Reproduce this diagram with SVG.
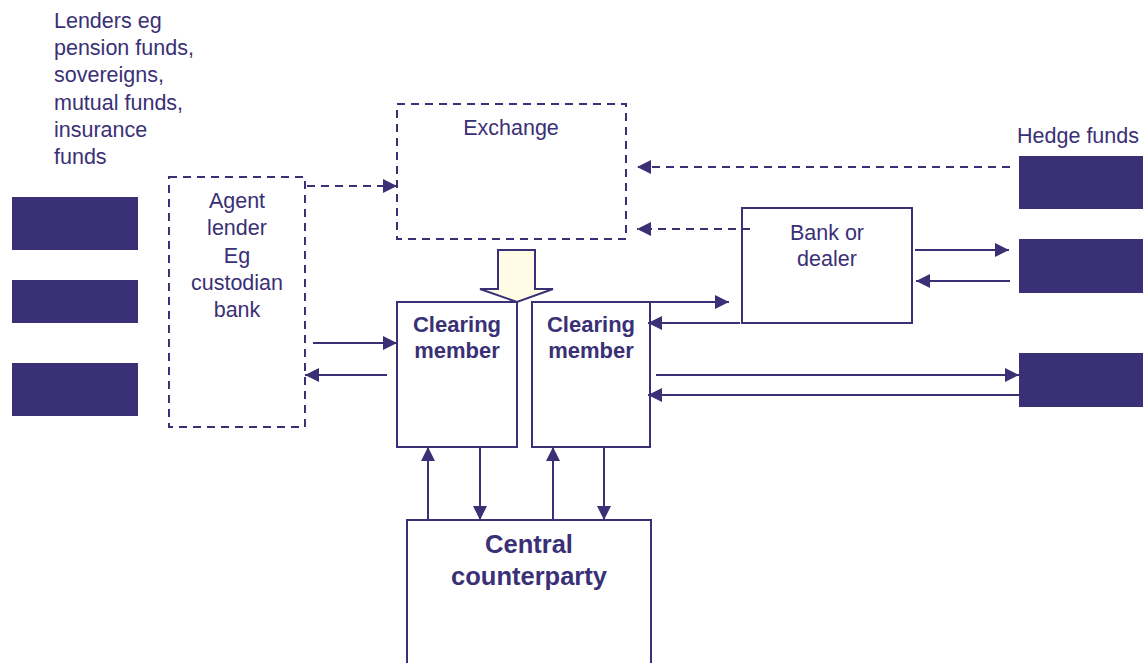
<svg xmlns="http://www.w3.org/2000/svg" width="1143" height="663" viewBox="0 0 1143 663">
  <style>
    .t { font-family: "Liberation Sans", Arial, sans-serif; font-size: 21.5px; fill: #3a3075; }
    .c { text-anchor: middle; }
    .b { font-weight: bold; font-size: 22px; }
    .big { font-weight: bold; font-size: 25.5px; }
    .box { fill: #ffffff; stroke: #3a3075; stroke-width: 2; }
    .dash { fill: none; stroke: #3a3075; stroke-width: 2; stroke-dasharray: 8 6; }
    .solid { fill: #3a3075; }
    .ln { fill: none; stroke: #3a3075; stroke-width: 2; }
    .dl { fill: none; stroke: #3a3075; stroke-width: 2; stroke-dasharray: 8 6; }
  </style>
  <defs>
    <marker id="ah" viewBox="0 0 14 14" refX="14" refY="7" markerWidth="14" markerHeight="14" markerUnits="userSpaceOnUse" orient="auto">
      <path d="M0,0 L14,7 L0,14 Z" fill="#3a3075"/>
    </marker>
  </defs>
  <rect width="1143" height="663" fill="#ffffff"/>

  <!-- lenders -->
  <g id="lenders">
    <text class="t" x="54" y="28">Lenders eg</text>
    <text class="t" x="54" y="55">pension funds,</text>
    <text class="t" x="54" y="82">sovereigns,</text>
    <text class="t" x="54" y="110">mutual funds,</text>
    <text class="t" x="54" y="137">insurance</text>
    <text class="t" x="54" y="164">funds</text>
    <rect class="solid" x="12" y="197" width="126" height="53"/>
    <rect class="solid" x="12" y="280" width="126" height="43"/>
    <rect class="solid" x="12" y="363" width="126" height="53"/>
  </g>

  <!-- agent lender -->
  <g id="agent-lender">
    <rect class="dash" x="169" y="177" width="136" height="250"/>
    <text class="t c" x="237" y="208">Agent</text>
    <text class="t c" x="237" y="235">lender</text>
    <text class="t c" x="237" y="263">Eg</text>
    <text class="t c" x="237" y="290">custodian</text>
    <text class="t c" x="237" y="317">bank</text>
  </g>

  <!-- exchange -->
  <g id="exchange">
    <rect class="dash" x="397" y="104" width="229" height="135"/>
    <text class="t c" x="511" y="135">Exchange</text>
  </g>

  <!-- hollow arrow from exchange down to clearing members -->
  <g id="exchange-arrow">
    <path d="M498,250 L535,250 L535,289 L553,289 L517,302 L480,289 L498,289 Z" fill="#fffbe4" stroke="#3a3075" stroke-width="2"/>
  </g>

  <!-- clearing members -->
  <g id="clearing-member-1">
    <rect class="box" x="397" y="302" width="120" height="145"/>
    <text class="t b c" x="457" y="332">Clearing</text>
    <text class="t b c" x="457" y="358">member</text>
  </g>
  <g id="clearing-member-2">
    <rect class="box" x="532" y="302" width="118" height="145"/>
    <text class="t b c" x="591" y="332">Clearing</text>
    <text class="t b c" x="591" y="358">member</text>
  </g>

  <!-- central counterparty -->
  <g id="ccp">
    <rect class="box" x="407" y="520" width="244" height="150"/>
    <text class="t big c" x="529" y="553">Central</text>
    <text class="t big c" x="529" y="585">counterparty</text>
  </g>

  <!-- bank or dealer -->
  <g id="bank-dealer">
    <rect class="box" x="742" y="208" width="170" height="115"/>
    <text class="t c" x="827" y="240">Bank or</text>
    <text class="t c" x="827" y="266">dealer</text>
  </g>

  <!-- hedge funds -->
  <g id="hedge-funds">
    <text class="t" x="1139" y="143" text-anchor="end">Hedge funds</text>
    <rect class="solid" x="1019" y="156" width="124" height="53"/>
    <rect class="solid" x="1019" y="239" width="124" height="54"/>
    <rect class="solid" x="1019" y="353" width="124" height="54"/>
  </g>

  <!-- connectors -->
  <g id="connectors">
    <line class="dl" x1="307" y1="186" x2="397" y2="186" marker-end="url(#ah)"/>
    <line class="dl" x1="1010" y1="167" x2="637" y2="167" marker-end="url(#ah)"/>
    <line class="dl" x1="750" y1="229" x2="637" y2="229" marker-end="url(#ah)"/>

    <line class="ln" x1="313" y1="343" x2="397" y2="343" marker-end="url(#ah)"/>
    <line class="ln" x1="387" y1="375" x2="305" y2="375" marker-end="url(#ah)"/>

    <line class="ln" x1="650" y1="302" x2="729" y2="302" marker-end="url(#ah)"/>
    <line class="ln" x1="740" y1="323" x2="648" y2="323" marker-end="url(#ah)"/>

    <line class="ln" x1="915" y1="250" x2="1009" y2="250" marker-end="url(#ah)"/>
    <line class="ln" x1="1010" y1="281" x2="916" y2="281" marker-end="url(#ah)"/>

    <line class="ln" x1="656" y1="375" x2="1019" y2="375" marker-end="url(#ah)"/>
    <line class="ln" x1="1019" y1="395" x2="648" y2="395" marker-end="url(#ah)"/>

    <line class="ln" x1="428" y1="520" x2="428" y2="447" marker-end="url(#ah)"/>
    <line class="ln" x1="480" y1="447" x2="480" y2="520" marker-end="url(#ah)"/>
    <line class="ln" x1="553" y1="520" x2="553" y2="447" marker-end="url(#ah)"/>
    <line class="ln" x1="604" y1="447" x2="604" y2="520" marker-end="url(#ah)"/>
  </g>
</svg>
